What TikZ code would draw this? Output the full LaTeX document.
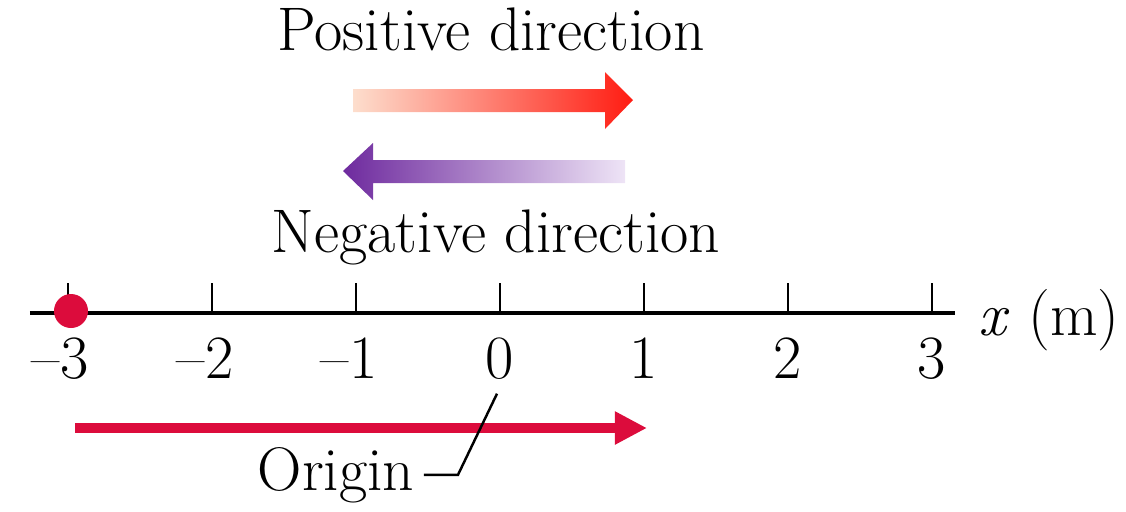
\documentclass[tikz,border=0pt]{standalone}
\usetikzlibrary{arrows.meta}
\definecolor{crimson}{RGB}{220,12,60}
\definecolor{posred}{RGB}{255,28,18}
\definecolor{pospale}{RGB}{253,222,205}
\definecolor{negpurple}{RGB}{110,42,158}
\definecolor{negpale}{RGB}{238,228,246}
\tikzset{lbl/.style={font=\fontsize{17.5}{21}\selectfont,inner sep=0pt,anchor=base}}
\begin{document}
\begin{tikzpicture}[x=0.01cm,y=-0.01cm]
\useasboundingbox (0,0) rectangle (1126,511);
\node[lbl] (pos) at (491,50) {Positive direction};
\shade[left color=pospale,right color=posred] (353,89)--(605,89)--(605,72)--(633,100)--(605,129)--(605,112)--(353,112)--cycle;
\shade[left color=negpurple,right color=negpale] (625,160)--(373,160)--(373,143)--(343,171)--(373,200)--(373,183)--(625,183)--cycle;
\node[lbl] (neg) at (496,252) {Negative direction};
\draw[line width=1.1pt] (30,313) coordinate (axl) -- (955,313) coordinate (axr);
\node[lbl,anchor=base west] (unit) at (978,335) {\textit{x} (m)};
\foreach \v/\t/\s in {-3/--3/-8,-2/--2/-7,-1/--1/-7,0/0/0,1/1/0,2/2/0,3/3/0}{
  \draw[line width=0.75pt] (500+144*\v,313) -- ++(0,-30);
  \node[lbl] (l\v) at (500+144*\v+\s,378) {\t};
}
\node[circle,fill=crimson,inner sep=0pt,minimum size=0.34cm] (dot) at (71,311) {};
\coordinate (start) at (75,428);
\coordinate (end) at (647,428);
\draw[crimson,line width=0.1cm,-{Triangle[length=0.32cm,width=0.31cm]}] (start) -- (end);
\node[lbl] (origin) at (336,490) {Origin};
\draw[line width=0.7pt] ([xshift=0.09cm]origin.east) -- ++(0.34cm,0) -- ([xshift=-0.03cm,yshift=-0.14cm]l0.south);
\end{tikzpicture}
\end{document}
